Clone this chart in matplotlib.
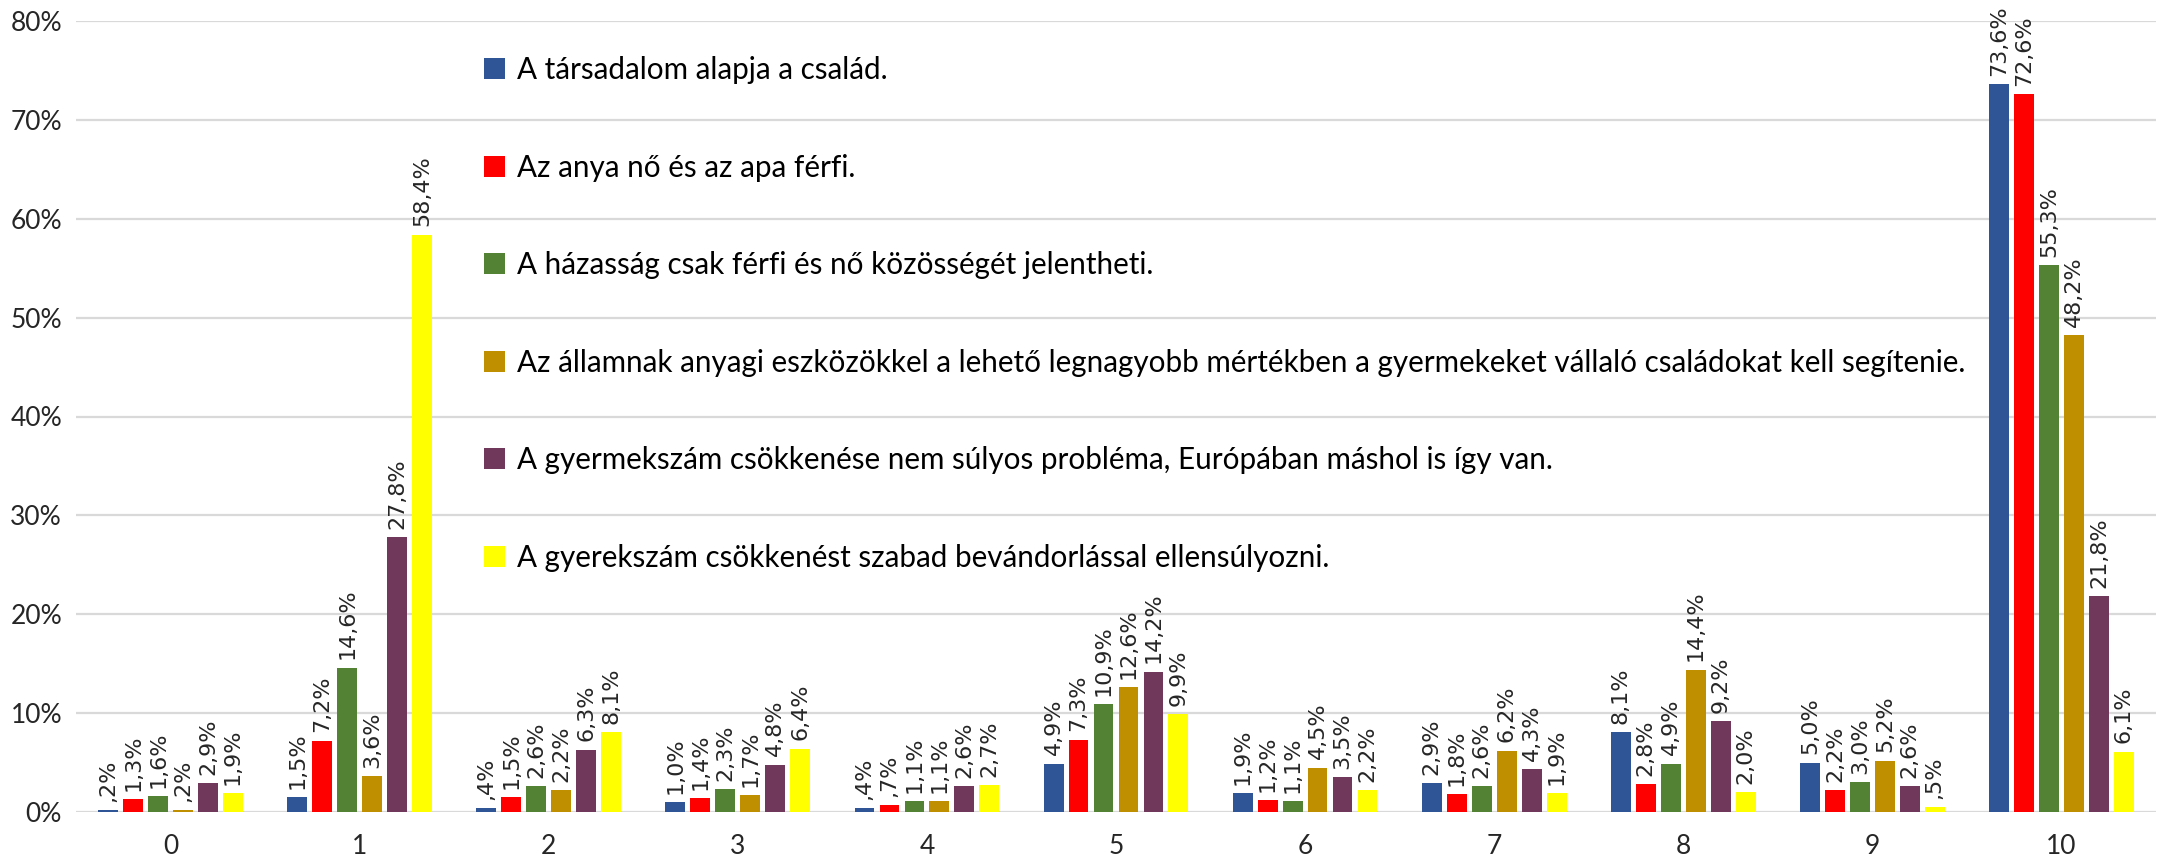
import numpy as np
import matplotlib
matplotlib.use("Agg")
import matplotlib.pyplot as plt
from matplotlib.patches import Patch

categories = ["0", "1", "2", "3", "4", "5", "6", "7", "8", "9", "10"]
series_names = [
    "A társadalom alapja a család.",
    "Az anya nő és az apa férfi.",
    "A házasság csak férfi és nő közösségét jelentheti.",
    "Az államnak anyagi eszközökkel a lehető legnagyobb mértékben a gyermekeket vállaló családokat kell segítenie.",
    "A gyermekszám csökkenése nem súlyos probléma, Európában máshol is így van.",
    "A gyerekszám csökkenést szabad bevándorlással ellensúlyozni.",
]
s1 = [0.2, 1.5, 0.4, 1.0, 0.4, 4.9, 1.9, 2.9, 8.1, 5.0, 73.6]
s2 = [1.3, 7.2, 1.5, 1.4, 0.7, 7.3, 1.2, 1.8, 2.8, 2.2, 72.6]
s3 = [1.6, 14.6, 2.6, 2.3, 1.1, 10.9, 1.1, 2.6, 4.9, 3.0, 55.3]
s4 = [0.2, 3.6, 2.2, 1.7, 1.1, 12.6, 4.5, 6.2, 14.4, 5.2, 48.2]
s5 = [2.9, 27.8, 6.3, 4.8, 2.6, 14.2, 3.5, 4.3, 9.2, 2.6, 21.8]
s6 = [1.9, 58.4, 8.1, 6.4, 2.7, 9.9, 2.2, 1.9, 2.0, 0.5, 6.1]
series = [s1, s2, s3, s4, s5, s6]
colors = ["#2F5597", "#FF0000", "#548235", "#BF8F00", "#70385A", "#FFFF00"]

W, H = 2167, 861
fig = plt.figure(figsize=(W / 100, H / 100), dpi=100)
ax = fig.add_axes([76 / W, 1 - 812 / H, (2156 - 76) / W, (812 - 21) / H])

x = np.arange(len(categories))
pitch = 0.132
bw = 0.105


def fmt(v):
    s = f"{v:.1f}".replace(".", ",")
    if s.startswith("0,"):
        s = s[1:]
    return s + "%"


for i, (vals, c) in enumerate(zip(series, colors)):
    pos = x + (i - 2.5) * pitch
    fr = np.array(vals) / 100.0
    ax.bar(pos, fr, width=bw, color=c, zorder=3, label=series_names[i])
    for px_, v in zip(pos, vals):
        ax.annotate(fmt(v), (px_, v / 100.0), xytext=(0, 6), textcoords="offset points",
                    rotation=90, ha="center", va="bottom", fontsize=16,
                    family="DejaVu Sans", color="#262626", zorder=4,
                    annotation_clip=False)

ax.set_xlim(-0.5, 10.5)
ax.set_ylim(0, 0.8)
ax.set_yticks(np.arange(0, 0.81, 0.1))
ax.set_yticklabels([f"{int(round(t * 100))}%" for t in np.arange(0, 0.81, 0.1)])
ax.set_xticks(x)
ax.set_xticklabels(categories)
ax.tick_params(length=0, labelsize=19, colors="#262626", pad=16)
ax.tick_params(axis="y", pad=10)
for lab in ax.get_xticklabels() + ax.get_yticklabels():
    lab.set_family("Lato")
ax.grid(axis="y", color="#D9D9D9", linewidth=1.6, zorder=0)
for sp in ax.spines.values():
    sp.set_visible(False)

handles = [Patch(facecolor=c, edgecolor="none") for c in colors]
leg = ax.legend(handles, series_names, loc="upper left",
                bbox_to_anchor=(484 / W, 1 - 56 / H), bbox_transform=fig.transFigure,
                frameon=False, prop={"family": "Lato", "size": 21.3},
                handlelength=0.7, handleheight=0.7, handletextpad=0.4,
                labelspacing=2.35, borderpad=0, borderaxespad=0)
for t in leg.get_texts():
    t.set_color("#000000")

fig.savefig("out.png", dpi=100, facecolor="white")
